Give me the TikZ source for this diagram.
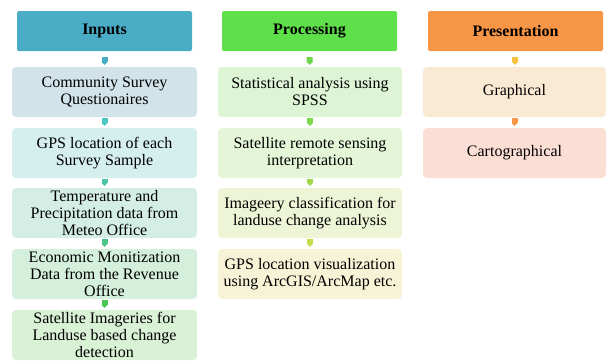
\documentclass[tikz,border=0pt]{standalone}
\usepackage{fontspec}
\setmainfont{Liberation Serif}
\usetikzlibrary{arrows.meta}

\definecolor{inHead}{HTML}{4BACC6}
\definecolor{prHead}{HTML}{5FE04A}
\definecolor{psHead}{HTML}{F79646}
\definecolor{inA}{HTML}{D3E3EA}
\definecolor{inB}{HTML}{D5EEEE}
\definecolor{inC}{HTML}{D4EEE5}
\definecolor{inD}{HTML}{D5EFDD}
\definecolor{inE}{HTML}{D9F1D5}
\definecolor{prA}{HTML}{DDF5D5}
\definecolor{prB}{HTML}{E5F5D7}
\definecolor{prC}{HTML}{EDF5D6}
\definecolor{prD}{HTML}{F6F3D6}
\definecolor{psA}{HTML}{FAEAD3}
\definecolor{psB}{HTML}{FBDFD5}
\definecolor{arIn1}{HTML}{4BACC6}
\definecolor{arIn2}{HTML}{4BC6C2}
\definecolor{arIn3}{HTML}{4BC6A6}
\definecolor{arIn4}{HTML}{4BC688}
\definecolor{arIn5}{HTML}{4BC653}
\definecolor{arPr1}{HTML}{6AD84A}
\definecolor{arPr2}{HTML}{7DD84A}
\definecolor{arPr3}{HTML}{9ED84A}
\definecolor{arPr4}{HTML}{C6DC4A}
\definecolor{arPs1}{HTML}{F5C242}
\definecolor{arPs2}{HTML}{F79646}

\begin{document}
\begin{tikzpicture}[x=1pt,y=-1pt,
  font=\fontsize{16}{17}\selectfont,
  headbox/.style={rounded corners=1.5pt, minimum width=175pt, minimum height=40pt,
    inner sep=0pt, font=\fontsize{16}{17}\selectfont\bfseries, align=center},
  itembox/.style={rounded corners=4pt, minimum height=50pt,
    inner sep=0pt, align=center},
  inbox/.style={itembox, minimum width=185pt},
  prbox/.style={itembox, minimum width=184pt},
  psbox/.style={itembox, minimum width=183pt},
  flow/.style={line width=6pt, -{Triangle[length=3pt,width=6pt]},
    shorten <=1pt, shorten >=2pt},
  headflow/.style={flow, shorten <=6pt}
]
\useasboundingbox (0,0) rectangle (606,360);

% column headers
\node[headbox, fill=inHead] (inH) at (104.5,31) {Inputs};
\node[headbox, fill=prHead] (prH) at (309.5,31) {Processing};
\node[headbox, fill=psHead] (psH) at (515.5,31) {Presentation};

% inputs column
\node[inbox, fill=inA] (in1) at (104.5,92) {Community Survey\\Questionaires};
\node[inbox, fill=inB] (in2) at (104.5,153) {GPS location of each\\Survey Sample};
\node[inbox, fill=inC] (in3) at (104.5,213) {Temperature and\\Precipitation data from\\Meteo Office};
\node[inbox, fill=inD] (in4) at (104.5,274) {Economic Monitization\\Data from the Revenue\\Office};
\node[inbox, fill=inE] (in5) at (104.5,335) {Satellite Imageries for\\Landuse based change\\detection};

% processing column
\node[prbox, fill=prA] (pr1) at (310,92) {Statistical analysis using\\SPSS};
\node[prbox, fill=prB] (pr2) at (310,153) {Satellite remote sensing\\interpretation};
\node[prbox, fill=prC] (pr3) at (310,213) {Imageery classification for\\landuse change analysis};
\node[prbox, fill=prD] (pr4) at (310,274) {GPS location visualization\\using ArcGIS/ArcMap etc.};

% presentation column
\node[psbox, fill=psA] (ps1) at (514.5,92) {Graphical};
\node[psbox, fill=psB] (ps2) at (514.5,153) {Cartographical};

% connectors
\draw[headflow, arIn1] (inH) -- (in1);
\draw[flow, arIn2] (in1) -- (in2);
\draw[flow, arIn3] (in2) -- (in3);
\draw[flow, arIn4] (in3) -- (in4);
\draw[flow, arIn5] (in4) -- (in5);
\draw[headflow, arPr1] (prH) -- (pr1);
\draw[flow, arPr2] (pr1) -- (pr2);
\draw[flow, arPr3] (pr2) -- (pr3);
\draw[flow, arPr4] (pr3) -- (pr4);
\draw[headflow, arPs1] (psH) -- (ps1);
\draw[flow, arPs2] (ps1) -- (ps2);
\end{tikzpicture}
\end{document}
